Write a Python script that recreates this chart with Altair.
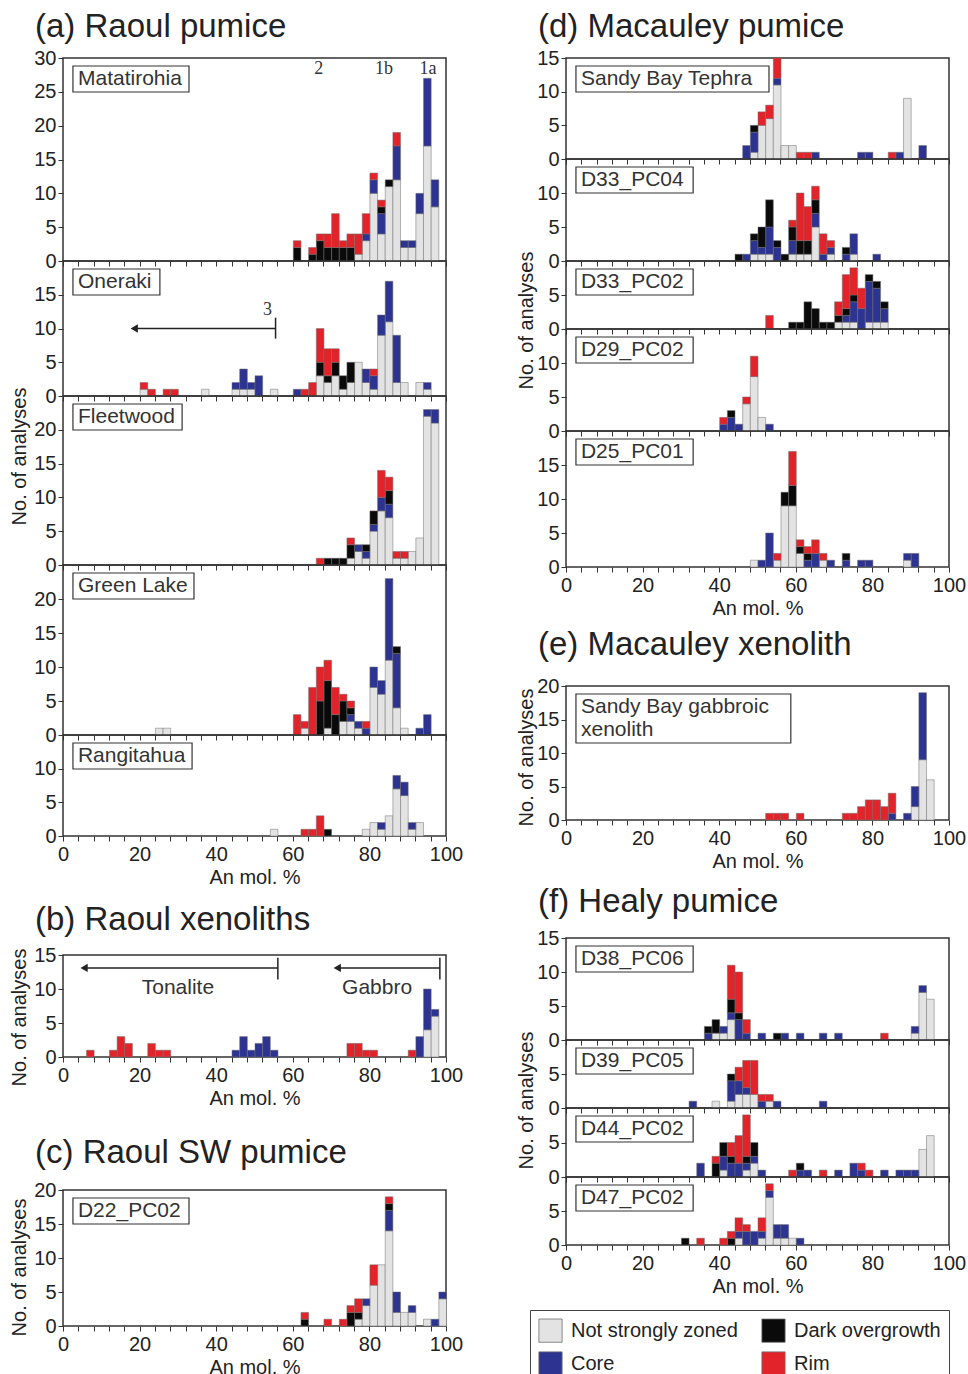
import altair as alt
import pandas as pd

FONT = "Liberation Sans"
SERIF = "Liberation Serif"
INK = "#222222"

CATS = ["Not strongly zoned", "Core", "Dark overgrowth", "Rim"]
COLORS = ["#e3e3e3", "#2c3391", "#0a0a0a", "#e2232a"]
STACK_ORDER = {"Not strongly zoned": 0, "Core": 1, "Dark overgrowth": 2, "Rim": 3}
BIN_W = 2
X_TICKS = list(range(0, 101, 4))
PLOT_W = 383

# ---------------- data: lower edge of each 2 mol.% bin, counts per category ----------------
# (a) Raoul pumice
MATA_BIN = [60, 64, 66, 68, 70, 72, 74, 76, 78, 80, 82, 84, 86, 88, 90, 92, 94, 96]
MATA_NSZ = [0, 0, 0, 0, 0, 0, 0, 1, 3, 10, 4, 11, 12, 2, 2, 7, 17, 8]
MATA_CORE = [0, 0, 0, 0, 0, 0, 0, 0, 1, 2, 3, 0, 5, 1, 1, 3, 10, 4]
MATA_DARK = [2, 1, 3, 2, 2, 2, 2, 0, 0, 0, 1, 1, 0, 0, 0, 0, 0, 0]
MATA_RIM = [1, 1, 1, 2, 5, 1, 2, 3, 3, 1, 1, 0, 2, 0, 0, 0, 0, 0]

ONER_BIN = [20, 22, 26, 28, 36, 44, 46, 48, 50, 54, 60, 62, 64, 66, 68, 70, 72, 74, 76, 78, 80, 82, 84, 86, 88, 92, 94]
ONER_NSZ = [1, 0, 0, 0, 1, 1, 1, 1, 0, 1, 0, 0, 0, 3, 2, 3, 1, 2, 5, 2, 1, 9, 11, 2, 2, 2, 1]
ONER_CORE = [0, 0, 0, 0, 0, 1, 3, 1, 3, 0, 1, 0, 0, 0, 0, 0, 0, 0, 0, 2, 2, 3, 6, 7, 0, 0, 1]
ONER_DARK = [0, 0, 0, 0, 0, 0, 0, 0, 0, 0, 0, 0, 0, 2, 1, 2, 2, 3, 0, 0, 0, 0, 0, 0, 0, 0, 0]
ONER_RIM = [1, 1, 1, 1, 0, 0, 0, 0, 0, 0, 0, 1, 2, 5, 4, 2, 0, 0, 0, 0, 1, 0, 0, 0, 0, 0, 0]

FLEE_BIN = [66, 68, 70, 72, 74, 76, 78, 80, 82, 84, 86, 88, 90, 92, 94, 96]
FLEE_NSZ = [0, 0, 0, 0, 1, 2, 1, 5, 8, 7, 1, 1, 2, 4, 22, 21]
FLEE_CORE = [0, 0, 0, 0, 0, 1, 1, 1, 2, 2, 0, 0, 0, 0, 1, 2]
FLEE_DARK = [0, 1, 1, 1, 2, 0, 1, 2, 0, 2, 0, 0, 0, 0, 0, 0]
FLEE_RIM = [1, 0, 0, 0, 1, 0, 0, 0, 4, 2, 1, 1, 0, 0, 0, 0]

GREE_BIN = [24, 26, 60, 62, 64, 66, 68, 70, 72, 74, 76, 78, 80, 82, 84, 86, 88, 92, 94]
GREE_NSZ = [1, 1, 0, 1, 0, 0, 1, 0, 2, 2, 1, 0, 7, 6, 11, 4, 1, 0, 0]
GREE_CORE = [0, 0, 0, 0, 0, 0, 0, 0, 0, 1, 1, 1, 3, 2, 12, 8, 0, 1, 3]
GREE_DARK = [0, 0, 0, 0, 0, 5, 7, 3, 3, 1, 0, 0, 0, 0, 0, 1, 0, 0, 0]
GREE_RIM = [0, 0, 3, 1, 7, 5, 3, 4, 1, 1, 0, 1, 0, 0, 0, 0, 0, 0, 0]

RANG_BIN = [54, 62, 64, 66, 68, 78, 80, 82, 84, 86, 88, 90, 92]
RANG_NSZ = [1, 0, 0, 0, 0, 1, 2, 1, 3, 7, 6, 1, 2]
RANG_CORE = [0, 0, 0, 0, 0, 0, 0, 1, 0, 2, 2, 1, 0]
RANG_DARK = [0, 0, 0, 0, 1, 0, 0, 0, 0, 0, 0, 0, 0]
RANG_RIM = [0, 1, 1, 3, 0, 0, 0, 0, 0, 0, 0, 0, 0]

# (b) Raoul xenoliths
XENO_BIN = [6, 12, 14, 16, 22, 24, 26, 44, 46, 48, 50, 52, 54, 74, 76, 78, 80, 90, 92, 94, 96]
XENO_NSZ = [0, 0, 0, 0, 0, 0, 0, 0, 0, 0, 0, 0, 0, 0, 0, 0, 0, 0, 0, 4, 6]
XENO_CORE = [0, 0, 0, 0, 0, 0, 0, 1, 3, 1, 2, 3, 1, 0, 0, 0, 0, 0, 3, 6, 1]
XENO_DARK = [0] * 21
XENO_RIM = [1, 1, 3, 2, 2, 1, 1, 0, 0, 0, 0, 0, 0, 2, 2, 1, 1, 1, 0, 0, 0]

# (c) Raoul SW pumice
D22_BIN = [62, 68, 72, 74, 76, 78, 80, 82, 84, 86, 88, 90, 94, 96, 98]
D22_NSZ = [0, 0, 0, 0, 1, 3, 6, 9, 14, 2, 2, 2, 1, 0, 4]
D22_CORE = [0, 0, 0, 0, 0, 1, 0, 0, 3, 3, 0, 1, 0, 1, 1]
D22_DARK = [1, 0, 0, 2, 1, 0, 0, 0, 1, 0, 0, 0, 0, 0, 0]
D22_RIM = [1, 1, 1, 1, 2, 0, 3, 0, 1, 0, 0, 0, 0, 0, 0]

# (d) Macauley pumice
SBT_BIN = [46, 48, 50, 52, 54, 56, 58, 60, 62, 64, 76, 78, 84, 86, 88, 92]
SBT_NSZ = [0, 1, 5, 6, 11, 2, 2, 0, 0, 0, 0, 0, 0, 0, 9, 0]
SBT_CORE = [2, 3, 0, 0, 1, 0, 0, 0, 0, 1, 1, 1, 0, 1, 0, 2]
SBT_DARK = [0, 1, 0, 0, 0, 0, 0, 0, 0, 0, 0, 0, 0, 0, 0, 0]
SBT_RIM = [0, 0, 2, 2, 3, 0, 0, 1, 1, 0, 0, 0, 1, 0, 0, 0]

D3304_BIN = [44, 46, 48, 50, 52, 54, 56, 58, 60, 62, 64, 66, 68, 72, 74, 80]
D3304_NSZ = [0, 0, 1, 1, 1, 0, 0, 1, 1, 1, 5, 0, 1, 0, 1, 0]
D3304_CORE = [0, 1, 2, 1, 4, 2, 0, 2, 0, 0, 2, 1, 1, 1, 3, 1]
D3304_DARK = [1, 0, 1, 3, 4, 1, 1, 2, 2, 2, 2, 0, 0, 1, 0, 0]
D3304_RIM = [0, 0, 0, 0, 0, 0, 0, 1, 7, 5, 2, 3, 1, 0, 0, 0]

D3302_BIN = [52, 58, 60, 62, 64, 66, 68, 70, 72, 74, 76, 78, 80, 82]
D3302_NSZ = [0, 0, 0, 0, 0, 0, 0, 1, 1, 1, 0, 1, 1, 1]
D3302_CORE = [0, 0, 0, 0, 0, 0, 0, 0, 1, 3, 3, 6, 5, 2]
D3302_DARK = [0, 1, 1, 4, 3, 1, 1, 1, 1, 1, 0, 1, 1, 1]
D3302_RIM = [2, 0, 0, 0, 0, 0, 0, 2, 5, 4, 3, 0, 0, 0]

D29_BIN = [40, 42, 44, 46, 48, 50, 52]
D29_NSZ = [0, 0, 0, 4, 8, 2, 0]
D29_CORE = [1, 2, 1, 0, 0, 0, 1]
D29_DARK = [0, 1, 0, 0, 0, 0, 0]
D29_RIM = [1, 0, 0, 1, 3, 0, 0]

D25_BIN = [48, 50, 52, 54, 56, 58, 60, 62, 64, 66, 68, 72, 76, 78, 88, 90]
D25_NSZ = [1, 0, 0, 1, 9, 9, 2, 0, 0, 1, 0, 0, 0, 0, 1, 0]
D25_CORE = [0, 1, 5, 0, 0, 0, 0, 1, 2, 0, 1, 1, 1, 1, 1, 2]
D25_DARK = [0, 0, 0, 0, 2, 3, 1, 1, 0, 0, 0, 1, 0, 0, 0, 0]
D25_RIM = [0, 0, 0, 1, 0, 5, 1, 1, 2, 1, 0, 0, 0, 0, 0, 0]

# (e) Macauley xenolith
GAB_BIN = [52, 54, 56, 60, 72, 74, 76, 78, 80, 82, 84, 88, 90, 92, 94]
GAB_NSZ = [0, 0, 0, 0, 0, 0, 0, 0, 0, 0, 0, 0, 2, 9, 6]
GAB_CORE = [0, 0, 0, 0, 0, 0, 0, 0, 0, 0, 1, 1, 3, 10, 0]
GAB_DARK = [0] * 15
GAB_RIM = [1, 1, 1, 1, 1, 1, 2, 3, 3, 2, 3, 0, 0, 0, 0]

# (f) Healy pumice
D38_BIN = [36, 38, 40, 42, 44, 46, 50, 54, 56, 60, 66, 70, 82, 90, 92, 94]
D38_NSZ = [0, 1, 1, 3, 0, 0, 0, 0, 0, 0, 0, 0, 0, 1, 7, 6]
D38_CORE = [1, 0, 1, 1, 3, 1, 1, 0, 1, 1, 1, 1, 0, 1, 1, 0]
D38_DARK = [1, 2, 0, 2, 1, 0, 0, 1, 0, 0, 0, 0, 0, 0, 0, 0]
D38_RIM = [0, 0, 0, 5, 6, 2, 0, 0, 0, 0, 0, 0, 1, 0, 0, 0]

D39_BIN = [32, 38, 42, 44, 46, 48, 50, 52, 54, 66]
D39_NSZ = [0, 1, 1, 2, 2, 2, 0, 1, 0, 0]
D39_CORE = [1, 0, 3, 2, 1, 0, 1, 0, 1, 1]
D39_DARK = [0, 0, 1, 0, 0, 0, 0, 0, 0, 0]
D39_RIM = [0, 0, 0, 2, 4, 5, 1, 1, 0, 0]

D44_BIN = [34, 38, 40, 42, 44, 46, 48, 50, 58, 60, 62, 66, 70, 74, 76, 78, 82, 86, 88, 90, 92, 94]
D44_NSZ = [0, 0, 1, 0, 0, 1, 2, 0, 0, 0, 0, 0, 0, 0, 0, 0, 0, 0, 0, 0, 4, 6]
D44_CORE = [2, 0, 2, 2, 2, 1, 1, 1, 0, 1, 1, 0, 1, 2, 1, 0, 1, 1, 1, 1, 0, 0]
D44_DARK = [0, 2, 2, 1, 0, 1, 2, 0, 0, 1, 0, 0, 0, 0, 0, 0, 0, 0, 0, 0, 0, 0]
D44_RIM = [0, 1, 0, 2, 4, 6, 0, 0, 1, 0, 0, 1, 0, 0, 1, 1, 0, 0, 0, 0, 0, 0]

D47_BIN = [30, 34, 40, 42, 44, 46, 48, 50, 52, 54, 56, 58, 60]
D47_NSZ = [0, 0, 0, 0, 1, 0, 0, 1, 7, 1, 1, 1, 0]
D47_CORE = [0, 0, 0, 0, 1, 2, 2, 1, 1, 2, 2, 0, 1]
D47_DARK = [1, 0, 0, 1, 0, 0, 0, 0, 0, 0, 0, 0, 0]
D47_RIM = [0, 1, 1, 1, 2, 1, 0, 2, 1, 0, 0, 0, 0]

# ---------------- annotations ----------------
MATA_NOTE_X = [66.8, 83.8, 95.3]
MATA_NOTE_T = ["2", "1b", "1a"]
MATA_NOTE_Y = 28.4
ONER_ARROW = {"from": 55.5, "to": 17.5, "y": 10.0, "lo": 8.5, "hi": 11.6}
ONER_NOTE = {"x": 53.4, "y": 12.7, "t": "3"}
XENO_ARROWS = [
    {"from": 56.1, "to": 4.4, "y": 13.1, "lo": 11.4, "hi": 14.6},
    {"from": 98.4, "to": 70.5, "y": 13.1, "lo": 11.4, "hi": 14.6},
]
XENO_NOTE_X = [30.0, 82.0]
XENO_NOTE_T = ["Tonalite", "Gabbro"]
XENO_NOTE_Y = 10.1

LEGEND = alt.Legend(
    title=None, orient="none", legendX=467, legendY=1252, columns=2,
    symbolType="square", symbolSize=540, symbolStrokeColor="#6f6f6f", symbolStrokeWidth=0.8,
    labelFont=FONT, labelFontSize=20, labelColor=INK, labelOffset=8, labelLimit=400,
    strokeColor="#444444", fillColor="white", padding=8, columnPadding=22, rowPadding=6,
)


def make_df(bins, nsz, core, dark, rim):
    rows = []
    for cat, vals in (("Not strongly zoned", nsz), ("Core", core),
                      ("Dark overgrowth", dark), ("Rim", rim)):
        for b, v in zip(bins, vals):
            if v > 0:
                rows.append({"lo": b, "hi": b + BIN_W, "n": v, "cat": cat,
                             "ord": STACK_ORDER[cat]})
    return pd.DataFrame(rows)


def arrow_layers(X, Y, a):
    line = pd.DataFrame({"x": [a["to"] + 0.8], "x2": [a["from"]], "y": [a["y"]]})
    bar = pd.DataFrame({"x": [a["from"]], "y": [a["lo"]], "y2": [a["hi"]]})
    head = pd.DataFrame({"x": [a["to"] + 1.1], "y": [a["y"]]})
    return [
        alt.Chart(line).mark_rule(color=INK, strokeWidth=1.5).encode(x=X("x:Q"), x2="x2:Q", y=Y("y:Q")),
        alt.Chart(bar).mark_rule(color=INK, strokeWidth=1.5).encode(x=X("x:Q"), y=Y("y:Q"), y2="y2:Q"),
        alt.Chart(head).mark_point(shape="triangle-left", filled=True, size=70, color=INK, opacity=1)
        .encode(x=X("x:Q"), y=Y("y:Q")),
    ]


def panel(data, label, box_x2, ymax, height, first=False, bottom=False, title_y=None,
          title_x=-44, group_title=None, title_offset=8, box_h=26, extras=None):
    df = make_df(*data)
    s = height / ymax
    xs = alt.Scale(domain=[0, 100], nice=False, zero=False)
    ys = alt.Scale(domain=[0, ymax], nice=False, zero=True)
    if bottom:
        xa = alt.Axis(values=X_TICKS, labelExpr="datum.value % 20 === 0 ? datum.label : ''",
                      title="An mol. %", tickSize=5, labelPadding=3, titlePadding=3,
                      labelFlush=False, labelOverlap=False, grid=False)
    else:
        xa = alt.Axis(values=X_TICKS, labels=False, title=None, tickSize=5, grid=False)
    yvals = list(range(0, ymax + 1, 5)) if first else list(range(0, ymax, 5))
    ykw = dict(values=yvals, tickSize=5, labelPadding=2, grid=False, labelFlush=False,
               labelOverlap=False)
    if title_y is not None:
        ykw.update(title="No. of analyses", titleY=title_y, titleX=title_x,
                   titleBaseline="middle", titleAngle=270)
    else:
        ykw.update(title=None)
    ya = alt.Axis(**ykw)

    def X(field, **kw):
        return alt.X(field, scale=xs, axis=xa, **kw)

    def Y(field, **kw):
        return alt.Y(field, scale=ys, axis=ya, **kw)

    bars = alt.Chart(df).mark_bar(binSpacing=0, stroke="#6f6f6f", strokeWidth=0.5).encode(
        x=X("lo:Q", bin="binned"),
        x2="hi:Q",
        y=Y("n:Q", stack="zero"),
        color=alt.Color("cat:N", scale=alt.Scale(domain=CATS, range=COLORS), legend=LEGEND),
        order=alt.Order("ord:Q"),
    )
    layers = [bars]
    if label:
        box = pd.DataFrame({"x": [2.6], "x2": [box_x2], "y": [ymax - 8 / s],
                            "y2": [ymax - (8 + box_h) / s], "ty": [ymax - 21 / s],
                            "t": [label]})
        rect = alt.Chart(box).mark_rect(fill="white", stroke="#333333", strokeWidth=1.2).encode(
            x=X("x:Q"), x2="x2:Q", y=Y("y:Q"), y2="y2:Q")
        text = alt.Chart(box).mark_text(align="left", baseline="middle", dx=5, font=FONT,
                                        fontSize=21, color="#333333", lineBreak="\n",
                                        lineHeight=23).encode(
            x=X("x:Q"), y=Y("ty:Q"), text="t:N")
        layers += [rect, text]
    if extras:
        layers += extras(X, Y)
    props = dict(width=PLOT_W, height=height)
    if group_title:
        props["title"] = alt.TitleParams(group_title, frame="group", anchor="start", dx=-28,
                                         offset=title_offset, font=FONT, fontSize=33,
                                         fontWeight="normal", color=INK)
    return alt.layer(*layers).properties(**props)


def spacer(h):
    return alt.Chart(pd.DataFrame({"a": [0], "b": [0]})).mark_point(opacity=0).encode(
        x=alt.X("a:Q", axis=None), y=alt.Y("b:Q", axis=None)
    ).properties(width=PLOT_W, height=h, view=alt.ViewBackground(stroke="transparent"))


def mata_extras(X, Y):
    d = pd.DataFrame({"x": MATA_NOTE_X, "t": MATA_NOTE_T, "y": [MATA_NOTE_Y] * len(MATA_NOTE_X)})
    return [alt.Chart(d).mark_text(font=SERIF, fontSize=18, color="#333333", baseline="middle")
            .encode(x=X("x:Q"), y=Y("y:Q"), text="t:N")]


def oner_extras(X, Y):
    d = pd.DataFrame({"x": [ONER_NOTE["x"]], "y": [ONER_NOTE["y"]], "t": [ONER_NOTE["t"]]})
    return arrow_layers(X, Y, ONER_ARROW) + [
        alt.Chart(d).mark_text(font=SERIF, fontSize=18, color="#333333", baseline="middle")
        .encode(x=X("x:Q"), y=Y("y:Q"), text="t:N")]


def xeno_extras(X, Y):
    out = []
    for a in XENO_ARROWS:
        out += arrow_layers(X, Y, a)
    d = pd.DataFrame({"x": XENO_NOTE_X, "t": XENO_NOTE_T, "y": [XENO_NOTE_Y] * 2})
    out.append(alt.Chart(d).mark_text(font=FONT, fontSize=21, color="#333333", baseline="middle")
               .encode(x=X("x:Q"), y=Y("y:Q"), text="t:N"))
    return out


A1 = panel((MATA_BIN, MATA_NSZ, MATA_CORE, MATA_DARK, MATA_RIM), "Matatirohia", 32.9, 30, 203,
           first=True, group_title="(a)  Raoul pumice", title_offset=4, extras=mata_extras)
A2 = panel((ONER_BIN, ONER_NSZ, ONER_CORE, ONER_DARK, ONER_RIM), "Oneraki", 25.3, 20, 135,
           extras=oner_extras)
A3 = panel((FLEE_BIN, FLEE_NSZ, FLEE_CORE, FLEE_DARK, FLEE_RIM), "Fleetwood", 31.1, 25, 169,
           title_y=60)
A4 = panel((GREE_BIN, GREE_NSZ, GREE_CORE, GREE_DARK, GREE_RIM), "Green Lake", 34.2, 25, 170)
A5 = panel((RANG_BIN, RANG_NSZ, RANG_CORE, RANG_DARK, RANG_RIM), "Rangitahua", 33.7, 15, 101,
           bottom=True)
B = panel((XENO_BIN, XENO_NSZ, XENO_CORE, XENO_DARK, XENO_RIM), "", 0, 15, 102,
          first=True, bottom=True, title_y=62, group_title="(b)  Raoul xenoliths",
          title_offset=8, extras=xeno_extras)
C = panel((D22_BIN, D22_NSZ, D22_CORE, D22_DARK, D22_RIM), "D22_PC02", 32.9, 20, 136,
          first=True, bottom=True, title_y=77, group_title="(c)  Raoul SW pumice",
          title_offset=10)

D1 = panel((SBT_BIN, SBT_NSZ, SBT_CORE, SBT_DARK, SBT_RIM), "Sandy Bay Tephra", 53.0, 15, 101,
           first=True, group_title="(d)  Macauley pumice", title_offset=4)
D2 = panel((D3304_BIN, D3304_NSZ, D3304_CORE, D3304_DARK, D3304_RIM), "D33_PC04", 33.2, 15, 102)
D3 = panel((D3302_BIN, D3302_NSZ, D3302_CORE, D3302_DARK, D3302_RIM), "D33_PC02", 33.2, 10, 68,
           title_y=59, title_x=-40)
D4 = panel((D29_BIN, D29_NSZ, D29_CORE, D29_DARK, D29_RIM), "D29_PC02", 33.2, 15, 102)
D5 = panel((D25_BIN, D25_NSZ, D25_CORE, D25_DARK, D25_RIM), "D25_PC01", 33.2, 20, 136,
           bottom=True)
E = panel((GAB_BIN, GAB_NSZ, GAB_CORE, GAB_DARK, GAB_RIM), "Sandy Bay gabbroic\nxenolith", 58.7,
          20, 134, first=True, bottom=True, title_y=71, title_x=-40,
          group_title="(e)  Macauley xenolith", title_offset=14, box_h=49)
F1 = panel((D38_BIN, D38_NSZ, D38_CORE, D38_DARK, D38_RIM), "D38_PC06", 33.2, 15, 102,
           first=True, group_title="(f)  Healy pumice", title_offset=9)
F2 = panel((D39_BIN, D39_NSZ, D39_CORE, D39_DARK, D39_RIM), "D39_PC05", 33.2, 10, 68,
           title_y=60, title_x=-40)
F3 = panel((D44_BIN, D44_NSZ, D44_CORE, D44_DARK, D44_RIM), "D44_PC02", 33.2, 10, 69)
F4 = panel((D47_BIN, D47_NSZ, D47_CORE, D47_DARK, D47_RIM), "D47_PC02", 33.2, 10, 68,
           bottom=True)

left = alt.vconcat(A1, A2, A3, A4, A5, spacer(119), B, spacer(133), C,
                   spacing=0, bounds="flush").resolve_scale(x="independent", y="independent")
right = alt.vconcat(D1, D2, D3, D4, D5, spacer(119), E, spacer(118), F1, F2, F3, F4,
                    spacing=0, bounds="flush").resolve_scale(x="independent", y="independent")

chart = alt.hconcat(left, right, spacing=51).resolve_scale(
    x="independent", y="independent"
).properties(
    padding={"left": 8, "top": 10, "right": 0, "bottom": 5}
).configure_view(
    stroke="#333333", strokeWidth=1.5
).configure_axis(
    domain=False, tickColor="#333333", tickWidth=1, labelFont=FONT, labelFontSize=20,
    labelColor=INK, titleFont=FONT, titleFontSize=20, titleFontWeight="normal", titleColor=INK,
    grid=False
).configure_title(
    font=FONT, fontSize=33, fontWeight="normal", color=INK, anchor="start"
)

chart.save("out.html", embed_options={"renderer": "svg", "actions": False})
